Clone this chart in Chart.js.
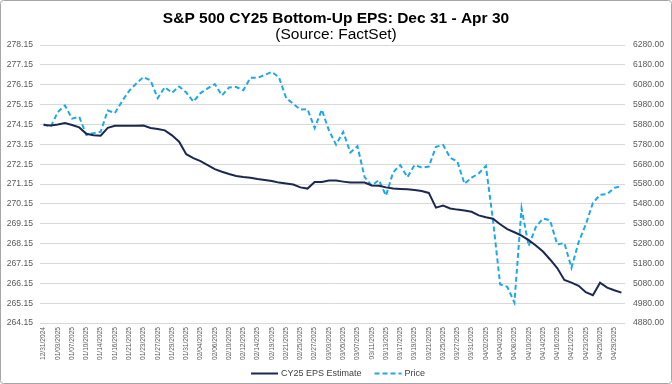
<!DOCTYPE html>
<html>
<head>
<meta charset="utf-8">
<script src="https://cdn.jsdelivr.net/npm/chart.js@4.4.1/dist/chart.umd.min.js"></script>
<style>
  html, body { margin: 0; padding: 0; background: #fff; }
  #wrap { width: 672px; height: 384px; }
</style>
</head>
<body>
<div id="wrap"><canvas id="epsChart" width="672" height="384"></canvas></div>
<script>
// trading days, Dec 31 - Apr 30
const dates = [
  '12/31/2024',
  '01/02/2025', '01/03/2025', '01/06/2025', '01/07/2025', '01/08/2025', '01/10/2025', '01/13/2025',
  '01/14/2025', '01/15/2025', '01/16/2025', '01/17/2025', '01/21/2025', '01/22/2025', '01/23/2025',
  '01/24/2025', '01/27/2025', '01/28/2025', '01/29/2025', '01/30/2025', '01/31/2025',
  '02/03/2025', '02/04/2025', '02/05/2025', '02/06/2025', '02/07/2025', '02/10/2025', '02/11/2025',
  '02/12/2025', '02/13/2025', '02/14/2025', '02/18/2025', '02/19/2025', '02/20/2025', '02/21/2025',
  '02/24/2025', '02/25/2025', '02/26/2025', '02/27/2025', '02/28/2025',
  '03/03/2025', '03/04/2025', '03/05/2025', '03/06/2025', '03/07/2025', '03/10/2025', '03/11/2025',
  '03/12/2025', '03/13/2025', '03/14/2025', '03/17/2025', '03/18/2025', '03/19/2025', '03/20/2025',
  '03/21/2025', '03/24/2025', '03/25/2025', '03/26/2025', '03/27/2025', '03/28/2025', '03/31/2025',
  '04/01/2025', '04/02/2025', '04/03/2025', '04/04/2025', '04/07/2025', '04/08/2025', '04/09/2025',
  '04/10/2025', '04/11/2025', '04/14/2025', '04/15/2025', '04/16/2025', '04/17/2025', '04/21/2025',
  '04/22/2025', '04/23/2025', '04/24/2025', '04/25/2025', '04/28/2025', '04/29/2025', '04/30/2025'
];

const epsEstimate = [
  274.12,
  274.10, 274.15, 274.22, 274.12, 274.00, 273.68, 273.60, 273.58, 273.98, 274.08,
  274.08, 274.08, 274.08, 274.09, 273.97, 273.92, 273.85, 273.60, 273.28, 272.65,
  272.45, 272.30, 272.10, 271.90, 271.77, 271.65, 271.55, 271.50, 271.47, 271.40,
  271.35, 271.30, 271.22, 271.17, 271.12, 270.98, 270.92, 271.25, 271.25,
  271.32, 271.32, 271.27, 271.22, 271.22, 271.22, 271.08, 271.06, 270.98, 270.92,
  270.90, 270.88, 270.85, 270.80, 270.70, 269.96, 270.06, 269.92, 269.86, 269.82, 269.75,
  269.57, 269.48, 269.40, 269.12, 268.88, 268.72, 268.55, 268.32, 268.05, 267.75,
  267.35, 266.92, 266.32, 266.18, 266.02, 265.70, 265.55, 266.18, 265.93, 265.80, 265.68
];

const spxPrice = [
  5881.63,
  5868.55, 5942.47, 5975.38, 5909.03, 5918.25, 5827.04, 5836.22, 5842.91, 5949.91, 5937.34,
  5996.66, 6049.24, 6086.37, 6118.71, 6101.24, 6012.28, 6067.70, 6039.31, 6071.17, 6040.53,
  5994.57, 6037.88, 6061.48, 6083.57, 6025.99, 6066.44, 6068.50, 6051.97, 6115.07, 6114.63,
  6129.58, 6144.15, 6117.52, 6013.13, 5983.25, 5955.25, 5956.06, 5861.57, 5954.50,
  5849.72, 5778.15, 5842.63, 5738.52, 5770.20, 5614.56, 5572.07, 5599.30, 5521.52, 5638.94,
  5675.12, 5614.66, 5675.29, 5662.89, 5667.56, 5767.57, 5776.65, 5712.20, 5693.31, 5580.94, 5611.85,
  5633.07, 5670.97, 5396.52, 5074.08, 5062.25, 4982.77, 5456.90, 5268.05, 5363.36, 5405.97,
  5396.63, 5275.70, 5282.70, 5158.20, 5287.76, 5375.86, 5484.77, 5525.21, 5528.75, 5560.83, 5569.06
];

const epsRange = [264.15, 278.15];
const priceRange = [4880, 6280];

const FONT = "'Liberation Sans', Arial, sans-serif";

// white background, bottom legend with real dashed sample, thin grey frame
const framePlugin = {
    id: 'frame',
    beforeDraw(chart) {
        const c = chart.ctx;
        c.save();
        c.fillStyle = '#fff';
        c.fillRect(0, 0, chart.width, chart.height);
        c.restore();
    },
    afterDraw(chart) {
        const c = chart.ctx;
        c.save();

        // legend
        c.font = `9px ${FONT}`;
        c.textBaseline = 'middle';
        const lineW = 27, textGap = 3, itemGap = 13;
        const items = chart.data.datasets.map(ds => ({ ds, w: c.measureText(ds.label).width }));
        const total = items.reduce((a, it) => a + lineW + textGap + it.w, 0) + itemGap * (items.length - 1);
        let x = Math.round(chart.width / 2 - total / 2) + 2;
        const y = 373.5;
        items.forEach(it => {
            c.strokeStyle = it.ds.borderColor;
            c.lineWidth = it.ds.borderWidth;
            c.setLineDash(it.ds.borderDash || []);
            c.beginPath();
            c.moveTo(x, y);
            c.lineTo(x + lineW, y);
            c.stroke();
            c.setLineDash([]);
            c.fillStyle = '#404040';
            c.fillText(it.ds.label, x + lineW + textGap, y);
            x += lineW + textGap + it.w + itemGap;
        });

        c.strokeStyle = '#a6a6a6';
        c.lineWidth = 1;
        c.beginPath();
        c.roundRect(0.5, 0.5, chart.width - 1, chart.height - 1, 3);
        c.stroke();
        c.restore();
    }
};

new Chart(document.getElementById('epsChart'), {
    type: 'line',
    data: {
        labels: dates,
        datasets: [{
            label: 'CY25 EPS Estimate',
            data: epsEstimate,
            yAxisID: 'y',
            borderColor: '#1b2950',
            backgroundColor: '#1b2950',
            borderWidth: 2,
            pointRadius: 0,
            tension: 0
        }, {
            label: 'Price',
            data: spxPrice,
            yAxisID: 'y1',
            borderColor: '#1ea9e6',
            backgroundColor: '#1ea9e6',
            borderWidth: 2,
            borderDash: [5, 3],
            pointRadius: 0,
            tension: 0
        }]
    },
    options: {
        responsive: false,
        devicePixelRatio: 1,
        animation: false,
        layout: { padding: { top: 0, bottom: 19, left: 0, right: 0 } },
        plugins: {
            title: {
                display: true,
                text: 'S&P 500 CY25 Bottom-Up EPS: Dec 31 - Apr 30',
                color: '#000',
                font: { family: FONT, size: 15.5, weight: 'bold', lineHeight: 1 },
                padding: { top: 10.5, bottom: 0 }
            },
            subtitle: {
                display: true,
                text: '(Source: FactSet)',
                color: '#000',
                font: { family: FONT, size: 15.5, lineHeight: 1 },
                padding: { top: 0.5, bottom: 3 }
            },
            legend: { display: false },
            tooltip: { enabled: false }
        },
        scales: {
            x: {
                offset: true,
                grid: { display: false, drawTicks: false },
                border: { display: false },
                ticks: {
                    autoSkip: false,
                    minRotation: 90,
                    maxRotation: 90,
                    padding: 4,
                    color: '#595959',
                    font: { family: FONT, size: 6.6 },
                    callback: (v, i) => (i % 2 === 0 ? dates[i] : null)
                },
                afterFit(s) { s.height = 42; }
            },
            y: {
                position: 'left',
                min: epsRange[0],
                max: epsRange[1],
                grid: { color: '#d9d9d9', drawTicks: false },
                border: { display: false },
                ticks: {
                    stepSize: 1,
                    padding: 7,
                    color: '#595959',
                    font: { family: FONT, size: 8.6 },
                    callback: v => v.toFixed(2)
                },
                afterFit(s) { s.width = 40; }
            },
            y1: {
                position: 'right',
                min: priceRange[0],
                max: priceRange[1],
                grid: { display: false, drawTicks: false },
                border: { display: false },
                ticks: {
                    stepSize: 100,
                    padding: 8,
                    color: '#595959',
                    font: { family: FONT, size: 8.6 },
                    callback: v => v.toFixed(2)
                },
                afterFit(s) { s.width = 47; }
            }
        }
    },
    plugins: [framePlugin]
});
</script>
</body>
</html>
